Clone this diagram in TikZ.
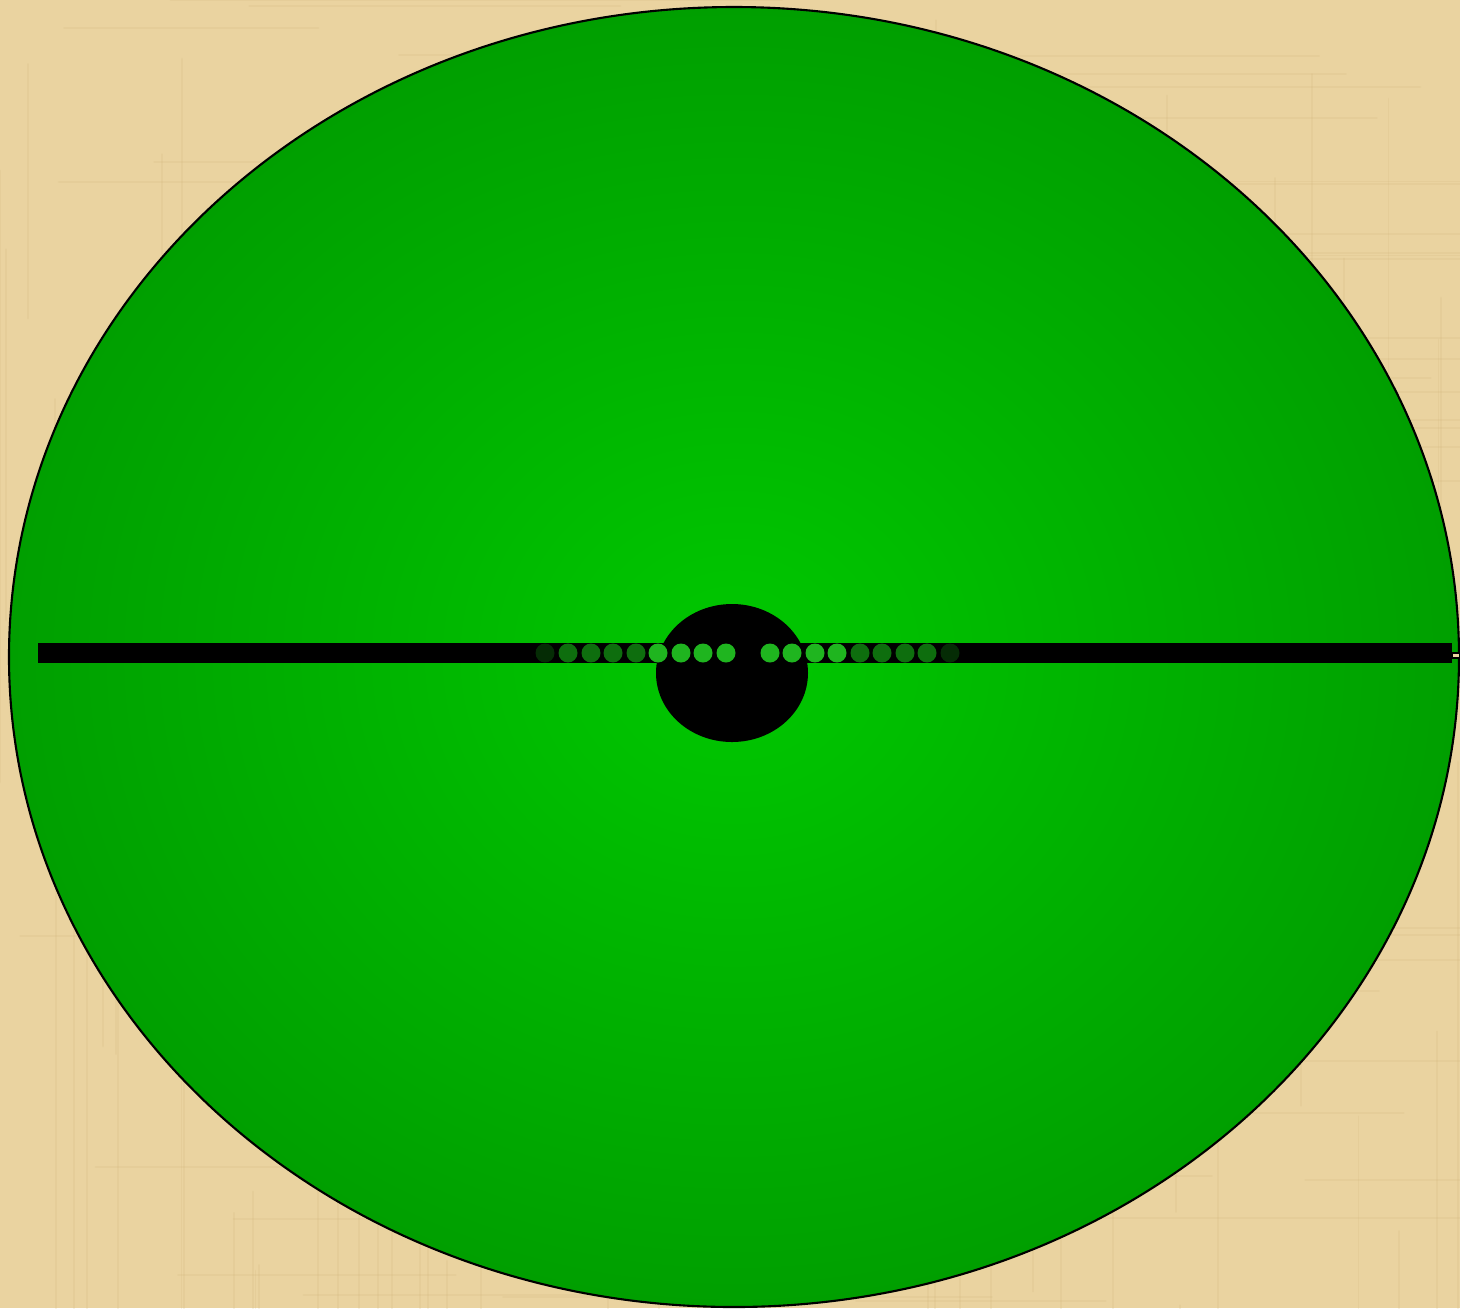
\documentclass[tikz,border=0pt]{standalone}
\usepackage{xcolor}
\usepackage{tikz}
\definecolor{dkPapyrus}{HTML}{EAD3A0}
\definecolor{dkFibre}{HTML}{C9AE72}
\definecolor{dkGreenIn}{HTML}{00C800}
\definecolor{dkGreenOut}{HTML}{009F00}
\definecolor{dkDotLit}{HTML}{1FB51F}
\definecolor{dkDotDim}{HTML}{0E6E0E}
\tikzset{
  dk scene/.style={line cap=round, line join=round},
  dk board/.style={draw=black, line width=0.6pt,
    inner color=dkGreenIn, outer color=dkGreenOut},
  dk bar/.style={fill=black},
  dk hole/.style={fill=black},
  dk dot lit/.style={fill=dkDotLit},
  dk dot dim/.style={fill=dkDotDim},
  dk fibre/.style={draw=dkFibre, line width=0.5pt, opacity=0.14}
}

\begin{document}
\begin{tikzpicture}[dk scene,x=0.01cm,y=-0.01cm]
\useasboundingbox (0,0) rectangle (1460,1308);
% papyrus ground
\fill[dkPapyrus] (0,0) rectangle (1460,1308);
\pgfmathsetseed{7}
\foreach \i in {1,...,90}{
  \pgfmathsetmacro{\fx}{rnd*1460}
  \pgfmathsetmacro{\fy}{rnd*1308}
  \pgfmathsetmacro{\fl}{200+rnd*500}
  \draw[dk fibre] (\fx,\fy) -- ++(0,\fl);
  \draw[dk fibre] (\fy,\fx) -- ++(\fl,0);
}
% board
\shade[dk board] (734,657) ellipse [x radius=725, y radius=650];
\draw[black, fill=dkPapyrus, line width=0.4pt] (1452,653) rectangle (1460,658);
\fill[dk bar] (38,643) rectangle (1452,663);
\fill[dk hole] (732,673) ellipse [x radius=76, y radius=69];
% lights
\foreach \x in {658,681,703,726,770,792,815,837}
  \fill[dk dot lit] (\x,653) circle (9.5);
\foreach \x in {568,591,613,636,860,882,905,927}
  \fill[dk dot dim] (\x,653) circle (9.5);
\foreach \x in {545,950}
  \fill[dk dot dim, opacity=0.4] (\x,653) circle (9.5);
\end{tikzpicture}
\end{document}
